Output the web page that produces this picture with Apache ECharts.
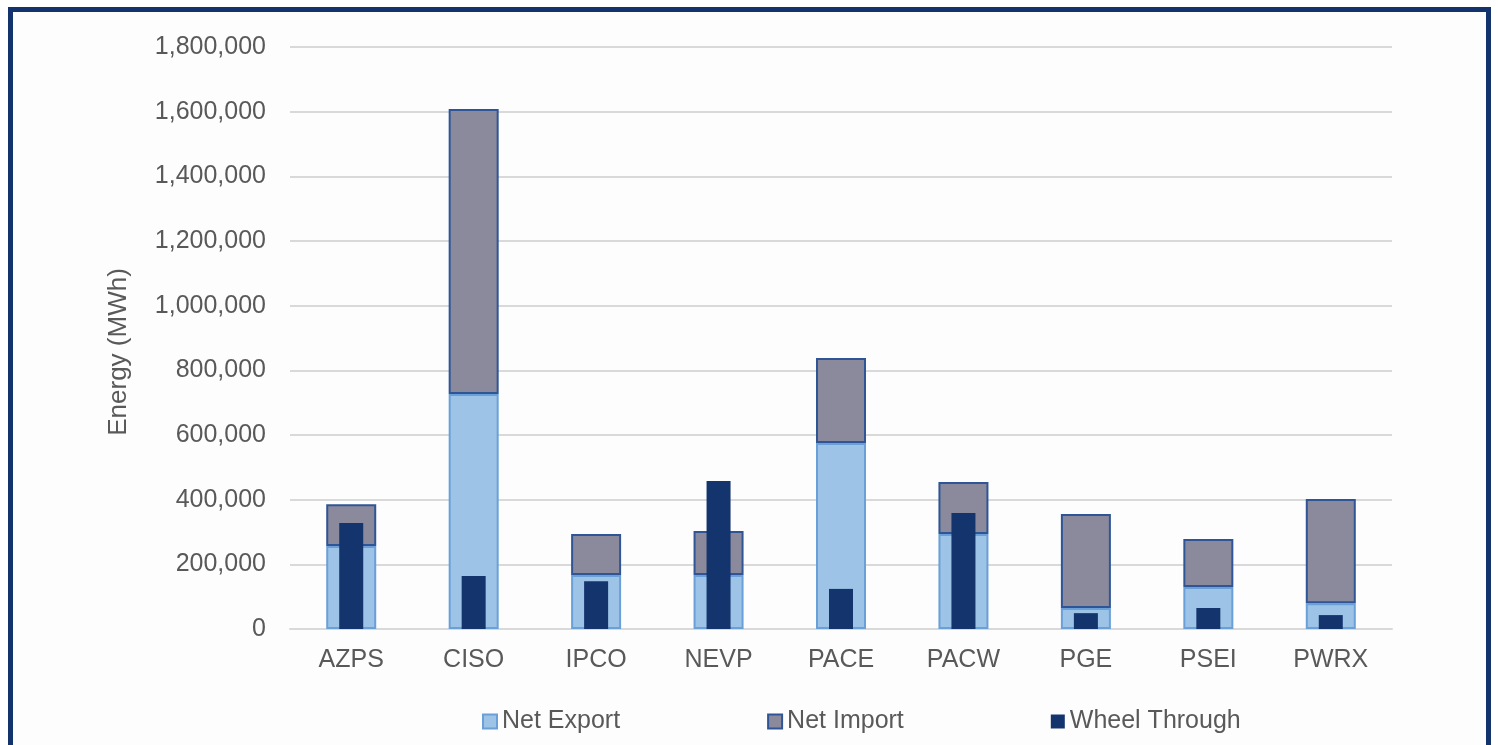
<!DOCTYPE html>
<html>
<head>
<meta charset="utf-8">
<script src="https://cdn.jsdelivr.net/npm/echarts@6/dist/echarts.min.js"></script>
<style>
  html, body { margin: 0; padding: 0; background: #fff; }
  #frame {
    position: absolute; left: 8px; top: 7px; width: 1473px; height: 760px;
    border: 5px solid #12336b; background: #fdfdfd;
  }
  #main { position: absolute; left: 0; top: 0; width: 1498px; height: 745px; }
</style>
</head>
<body>
<div id="frame"></div>
<div id="main"></div>
<script>
// 数据
const categories = ["AZPS", "CISO", "IPCO", "NEVP", "PACE", "PACW", "PGE", "PSEI", "PWRX"];
const netExport = [257000, 727000, 167000, 167000, 575000, 294000, 65000, 130000, 80000];
const netImport = [129000, 881000, 127000, 136000, 263000, 161000, 291000, 148000, 322000];
const wheelThrough = [328000, 164000, 148000, 458000, 124000, 359000, 49000, 65000, 43000];

const chartDom = document.getElementById("main");
const myChart = echarts.init(chartDom);

const labelColor = "#595959";
const font = "'Liberation Sans', Arial, sans-serif";

const option = {
  animation: false,
  textStyle: { fontFamily: font },
  grid: { left: 290, right: 106, top: 47, bottom: 116 },
  legend: {
    left: 477,
    top: 704,
    itemWidth: 14,
    itemHeight: 14,
    itemGap: 147,
    itemTextGap: 8,
    icon: "rect",
    textStyle: { fontSize: 25, color: labelColor, fontFamily: font },
    data: ["Net Export", "Net Import", "Wheel Through"]
  },
  xAxis: [
    {
      type: "category",
      data: categories,
      axisLine: { lineStyle: { color: "#d9d9d9", width: 2 } },
      axisTick: { show: false },
      axisLabel: { fontSize: 25, color: labelColor, margin: 19, fontFamily: font }
    },
    {
      type: "category",
      data: categories,
      show: false
    }
  ],
  yAxis: {
    type: "value",
    min: 0,
    max: 1800000,
    interval: 200000,
    name: "Energy (MWh)",
    nameLocation: "middle",
    nameGap: 158,
    nameTextStyle: { fontSize: 26, color: labelColor, fontFamily: font, padding: [0, 28, 0, 0] },
    axisLine: { show: false },
    axisTick: { show: false },
    axisLabel: {
      fontSize: 25,
      color: labelColor,
      margin: 24,
      fontFamily: font,
      formatter: (v) => v.toLocaleString("en-US")
    },
    splitLine: { lineStyle: { color: "#d9d9d9", width: 2 } }
  },
  series: [
    {
      name: "Net Export",
      type: "bar",
      stack: "total",
      barWidth: 50,
      data: netExport,
      itemStyle: { color: "#9dc3e6", borderColor: "#6a9fd8", borderWidth: 2 }
    },
    {
      name: "Net Import",
      type: "bar",
      stack: "total",
      barWidth: 50,
      data: netImport,
      itemStyle: { color: "#8b8a9c", borderColor: "#2f5597", borderWidth: 2 }
    },
    {
      name: "Wheel Through",
      type: "bar",
      xAxisIndex: 1,
      barWidth: 24,
      data: wheelThrough,
      itemStyle: { color: "#14346e" }
    }
  ]
};

option && myChart.setOption(option);
</script>
</body>
</html>
